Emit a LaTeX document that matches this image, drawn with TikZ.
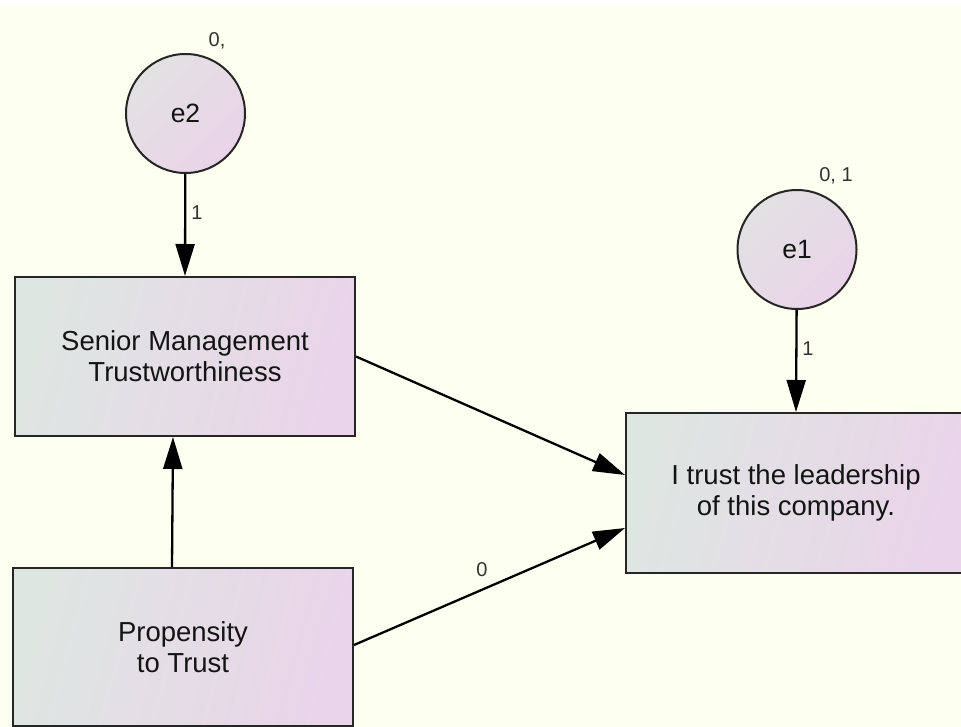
\documentclass[tikz,border=0pt]{standalone}
\usepackage{fontspec}
\setmainfont{Liberation Sans}
\usetikzlibrary{arrows.meta}
\definecolor{bgc}{RGB}{253,255,240}
\definecolor{boxl}{RGB}{222,230,226}
\definecolor{boxr}{RGB}{234,212,233}
\definecolor{circa}{RGB}{226,226,226}
\definecolor{circb}{RGB}{234,211,233}
\definecolor{lbl}{RGB}{50,50,50}
\definecolor{txt}{RGB}{20,20,20}
\tikzset{
  obsbox/.style={draw=black!85, line width=2pt, rectangle, minimum width=340pt,
    minimum height=159pt, left color=boxl, right color=boxr, shading angle=75,
    align=center, text=txt, font=\fontsize{27.5}{31}\selectfont, inner sep=0pt},
  errc/.style={draw=black!85, line width=2pt, circle, minimum size=119pt,
    top color=circa, bottom color=circb, shading angle=45, text=txt,
    font=\fontsize{26.5}{31}\selectfont, inner sep=0pt},
  path/.style={draw=black, line width=2.3pt, -{Triangle[length=32pt,width=19pt]}},
  lab/.style={text=lbl, font=\fontsize{20}{23}\selectfont, inner sep=0pt}
}
\begin{document}
\begin{tikzpicture}[x=1pt,y=-1pt]
\clip (0,0) rectangle (961,727);
\fill[bgc] (0,0) rectangle (961,727);
\fill[white] (0,0) rectangle (961,5);
% nodes
\node[errc] (e2) at (185.5,113.5) {e2};
\node[errc] (e1) at (797,249.5) {e1};
\node[obsbox] (smt) at (185,356.5) {Senior Management\\Trustworthiness};
\node[obsbox, minimum height=158pt] (prop) at (183,647) {Propensity\\to Trust};
\node[obsbox, minimum height=160pt] (tgt) at (796,493) {I trust the leadership\\of this company.};
% labels
\node[lab] (l0a) at (217,41) {0,};
\node[lab] (l0b) at (836,176) {0, 1};
% connectors
\draw[path] (e2) -- (smt.north);
\draw[path] (e1) -- (tgt.north);
\draw[path] ([xshift=-11pt]prop.north) -- ([xshift=-12pt]smt.south);
\draw[path] (smt.east) -- ([yshift=18pt]tgt.west);
\draw[path] ([yshift=2pt]prop.east) -- ([yshift=-35pt]tgt.west);
\node[lab] (l1a) at (197,213) {1};
\node[lab] (l1b) at (808,349) {1};
\node[lab] (l0c) at (482,570) {0};
\end{tikzpicture}
\end{document}
